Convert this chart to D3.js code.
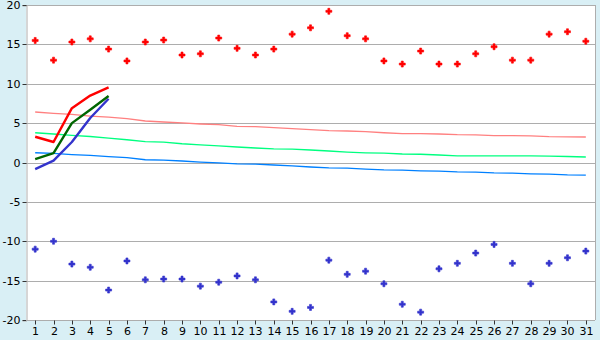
<!DOCTYPE html>
<html><head><meta charset="utf-8">
<script src="https://cdn.jsdelivr.net/npm/d3@7"></script>
<style>
html,body{margin:0;padding:0;background:#d9eff5;}
svg{display:block;font-family:"DejaVu Sans",Verdana,sans-serif;}
</style></head>
<body>
<svg id="chart" width="600" height="340"></svg>
<script>
const days = d3.range(1, 32);
const yTicks = [-20, -15, -10, -5, 0, 5, 10, 15, 20];

const highPoints = [15.5, 13.0, 15.3, 15.7, 14.4, 12.9, 15.3, 15.55, 13.65, 13.8,
  15.8, 14.5, 13.65, 14.4, 16.3, 17.1, 19.2, 16.1, 15.7, 12.9,
  12.5, 14.15, 12.5, 12.5, 13.8, 14.7, 13.0, 13.0, 16.3, 16.6, 15.4];
const lowPoints = [-11.0, -10.0, -12.9, -13.3, -16.2, -12.5, -14.9, -14.8, -14.8, -15.7,
  -15.2, -14.4, -14.9, -17.7, -18.9, -18.4, -12.4, -14.2, -13.8, -15.4,
  -18.0, -19.0, -13.5, -12.8, -11.5, -10.4, -12.8, -15.4, -12.8, -12.1, -11.25];

const actualHigh = [3.27, 2.6, 6.9, 8.5, 9.55];
const actualMean = [0.44, 1.2, 5.0, 6.7, 8.45];
const actualLow = [-0.83, 0.23, 2.6, 5.65, 8.1];

const normalHigh = [6.41, 6.25, 6.1, 5.9, 5.75, 5.56, 5.27, 5.14, 5.02, 4.89,
  4.8, 4.6, 4.55, 4.42, 4.29, 4.17, 4.04, 4.0, 3.91, 3.78,
  3.66, 3.66, 3.62, 3.53, 3.5, 3.42, 3.4, 3.38, 3.28, 3.26, 3.24];
const normalMean = [3.78, 3.62, 3.45, 3.3, 3.1, 2.89, 2.65, 2.6, 2.38, 2.24,
  2.1, 1.97, 1.84, 1.74, 1.7, 1.59, 1.46, 1.33, 1.23, 1.18,
  1.08, 1.05, 0.95, 0.85, 0.83, 0.83, 0.83, 0.83, 0.82, 0.76, 0.7];
const normalLow = [1.24, 1.15, 1.0, 0.9, 0.75, 0.61, 0.35, 0.3, 0.19, 0.06,
  -0.06, -0.17, -0.2, -0.32, -0.44, -0.57, -0.68, -0.72, -0.83, -0.93,
  -0.97, -1.06, -1.1, -1.2, -1.23, -1.32, -1.35, -1.44, -1.48, -1.57, -1.6];

const svg = d3.select("#chart");
const L = 26, R = 595, T = 5, B = 320;

const x = d3.scalePoint().domain(days).range([L, R]).padding(0.5);
const y = d3.scaleLinear().domain([-20, 20]).range([B, T]);

svg.append("rect").attr("x", L).attr("y", T).attr("width", R - L).attr("height", B - T).attr("fill", "#fff");

// gridlines
svg.append("g").selectAll("line").data(yTicks).join("line")
  .attr("x1", L).attr("x2", R)
  .attr("y1", d => Math.round(y(d)) + 0.5).attr("y2", d => Math.round(y(d)) + 0.5)
  .attr("stroke", "#adadad").attr("stroke-width", 1);
// right border
svg.append("line").attr("x1", R + 0.5).attr("x2", R + 0.5).attr("y1", T).attr("y2", B)
  .attr("stroke", "#adadad");

// y axis
const yAxis = svg.append("g").attr("transform", `translate(${L + 0.5},0.5)`)
  .call(d3.axisLeft(y).tickValues(yTicks).tickSize(4).tickPadding(2).tickFormat(d => String(d)));
yAxis.select(".domain").attr("stroke", "#adadad");
yAxis.selectAll(".tick line").attr("stroke", "#333");
yAxis.selectAll(".tick").attr("transform", d => `translate(0,${Math.round(y(d))})`);
yAxis.selectAll("text").attr("font-size", 11).attr("fill", "#000").attr("font-family", "DejaVu Sans");

// x axis
const xAxis = svg.append("g").attr("transform", `translate(0,${B + 0.5})`)
  .call(d3.axisBottom(x).tickSize(4).tickPadding(3));
xAxis.select(".domain").attr("stroke", "#adadad").attr("d", `M${L},0H${R}`);
xAxis.selectAll(".tick line").attr("stroke", "#333");
xAxis.selectAll(".tick").attr("transform", d => `translate(${Math.round(x(d)) + 0.5},0)`);
xAxis.selectAll("text").attr("font-size", 11).attr("fill", "#000").attr("font-family", "DejaVu Sans");

const line = d3.line().x((d, i) => x(days[i])).y(d => y(d));

// normal lines
[[normalHigh, "#ff8080"], [normalMean, "#00ff80"], [normalLow, "#0080ff"]].forEach(([data, c]) => {
  svg.append("path").datum(data).attr("d", line).attr("fill", "none")
    .attr("stroke", c).attr("stroke-width", 1.3);
});

// actual lines
[[actualLow, "#3333cc"], [actualMean, "#006600"], [actualHigh, "#ff0000"]].forEach(([data, c]) => {
  svg.append("path").datum(data).attr("d", line).attr("fill", "none")
    .attr("stroke", c).attr("stroke-width", 2.4).attr("stroke-linejoin", "round");
});

// markers
const sym = d3.symbol().type(d3.symbolCross).size(20);
svg.append("g").selectAll("path").data(highPoints).join("path")
  .attr("d", sym).attr("transform", (d, i) => `translate(${x(days[i])},${y(d)})`)
  .attr("fill", "#ff0000").attr("stroke", "#ff0000").attr("stroke-width", 0.6).attr("stroke-linejoin", "round");
svg.append("g").selectAll("path").data(lowPoints).join("path")
  .attr("d", sym).attr("transform", (d, i) => `translate(${x(days[i])},${y(d)})`)
  .attr("fill", "#3333cc").attr("stroke", "#3333cc").attr("stroke-width", 0.6).attr("stroke-linejoin", "round");
</script>
</body></html>
